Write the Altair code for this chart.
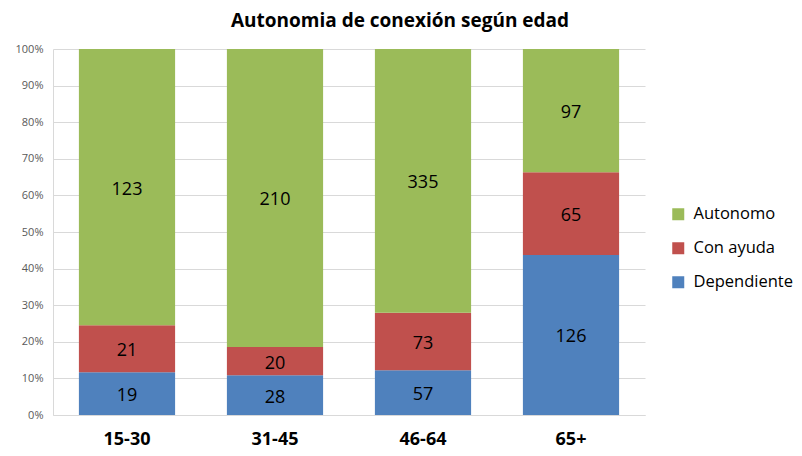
import altair as alt
import pandas as pd

ages = ["15-30", "31-45", "46-64", "65+"]
series = ["Dependiente", "Con ayuda", "Autonomo"]
dependiente = [19, 28, 57, 126]
con_ayuda = [21, 20, 73, 65]
autonomo = [123, 210, 335, 97]
colors = ["#4F81BD", "#C0504D", "#9BBB59"]
ytick_values = [0, 0.1, 0.2, 0.3, 0.4, 0.5, 0.6, 0.7, 0.8, 0.9, 1.0]

rows = []
for i, a in enumerate(ages):
    for j, (s, vals) in enumerate(zip(series, [dependiente, con_ayuda, autonomo])):
        rows.append({"age": a, "serie": s, "value": vals[i], "ord": j})
df = pd.DataFrame(rows)

FONT = "Open Sans"

base = alt.Chart(df).transform_stack(
    stack="value", groupby=["age"], as_=["y0", "y1"],
    sort=[alt.SortField("ord", order="ascending")], offset="normalize"
).transform_calculate(mid="(datum.y0 + datum.y1) / 2")

x = alt.X("age:N", sort=ages, title=None,
          scale=alt.Scale(paddingInner=0.35, paddingOuter=0.175),
          axis=alt.Axis(labelAngle=0, labelFont=FONT, labelFontSize=18, labelFontWeight="bold",
                        labelColor="#000000", labelPadding=15, ticks=False,
                        domainColor="#D9D9D9", grid=False))

yaxis = alt.Axis(format=".0%", values=ytick_values, labelFont=FONT, labelOverlap=False,
                 labelFontSize=11, labelColor="#595959", ticks=False,
                 domainColor="#D9D9D9", gridColor="#D9D9D9", labelPadding=10)

bars = base.mark_bar().encode(
    x=x,
    y=alt.Y("y0:Q", title=None, scale=alt.Scale(domain=[0, 1]), axis=yaxis),
    y2="y1:Q",
    color=alt.Color("serie:N", scale=alt.Scale(domain=series, range=colors),
                    legend=alt.Legend(title=None, orient="none", legendX=617, legendY=157,
                                      symbolType="square", symbolSize=144, symbolStrokeWidth=0,
                                      labelFont=FONT, labelFontSize=16.5, labelColor="#000000",
                                      rowPadding=17, labelOffset=7, labelLimit=200,
                                      values=["Autonomo", "Con ayuda", "Dependiente"])),
    order=alt.Order("ord:Q"),
)

labels = base.mark_text(font=FONT, fontSize=18, color="#000000", dy=2.5).encode(
    x=alt.X("age:N", sort=ages),
    y=alt.Y("mid:Q", title=None, scale=alt.Scale(domain=[0, 1]), axis=yaxis),
    text="value:Q",
)

chart = (bars + labels).properties(
    width=592, height=366,
    title=alt.TitleParams("Autonomia de conexión según edad", font=FONT, fontSize=19,
                          fontWeight="bold", color="#000000", anchor="middle", dx=51, offset=12),
    autosize=alt.AutoSizeParams(type="none"),
    padding={"left": 45, "top": 41, "right": 149, "bottom": 33},
).configure_view(stroke=None)

chart.save("out.html", embed_options={"renderer": "svg", "actions": False})
